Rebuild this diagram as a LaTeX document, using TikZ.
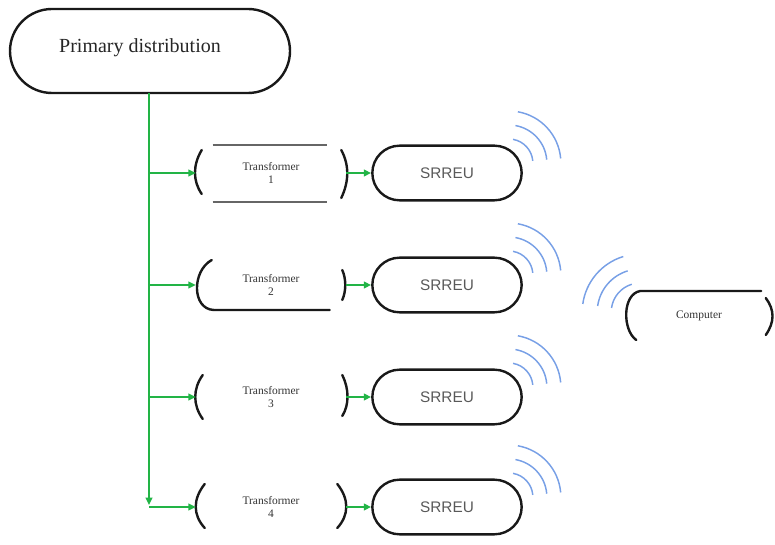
\documentclass[tikz,border=0pt]{standalone}
\usepackage{fontspec}
\setmainfont{Liberation Serif}
\newfontfamily\srfont{Liberation Sans}
\usetikzlibrary{arrows.meta,shapes.misc,calc}
\definecolor{wire}{RGB}{34,180,70}
\definecolor{wave}{RGB}{120,160,230}
\definecolor{ink}{RGB}{25,25,25}
\begin{document}
\begin{tikzpicture}[x=0.75pt,y=-0.75pt,
  pill/.style={draw=ink, line width=1.8pt, rounded rectangle, inner sep=0pt},
  primbox/.style={pill, minimum width=210pt, minimum height=63pt},
  srbox/.style={pill, minimum width=112pt, minimum height=41pt, font=\srfont\fontsize{11.5}{13}\selectfont, text=black!65},
  tbox/.style={minimum width=112.5pt, minimum height=37pt, inner sep=0pt, align=center, font=\fontsize{8.6}{9.5}\selectfont, text=black!80},
  bracket/.style={draw=ink, line width=1.8pt, line cap=round},
  rim/.style={draw=black!60, line width=1pt},
  feed/.style={draw=wire, line width=2pt, -{Triangle[length=5.5pt,width=5pt]}},
  wifi/.style={draw=wave, line width=1.1pt}
]
\useasboundingbox (0,0) rectangle (775,545);

% primary distribution
\node[primbox] (prim) at (150,51) {};
\node[font=\fontsize{15}{18}\selectfont, text=black!85] (primtxt) at (140,48) {Primary distribution};

% transformers
\node[tbox] (t1) at (271,173) {Transformer\\1};
\node[tbox] (t2) at (271,285) {Transformer\\2};
\node[tbox] (t3) at (271,397) {Transformer\\3};
\node[tbox] (t4) at (271,507) {Transformer\\4};

% SRREU units
\node[srbox] (s1) at (447,173) {SRREU};
\node[srbox] (s2) at (447,285) {SRREU};
\node[srbox] (s3) at (447,397) {SRREU};
\node[srbox] (s4) at (447,507) {SRREU};

% computer
\node[tbox, minimum width=108.75pt] (comp) at (699,316) {Computer};

% brackets of transformer 1
\draw[bracket] ([shift={(6,-23)}]t1.west) .. controls ([shift={(-3,-8)}]t1.west) and ([shift={(-3,8)}]t1.west) .. ([shift={(6,21)}]t1.west);
\draw[bracket] ([shift={(-5,-23)}]t1.east) .. controls ([shift={(3,-8)}]t1.east) and ([shift={(3,8)}]t1.east) .. ([shift={(-5,25)}]t1.east);
\draw[rim] ([shift={(17,-28)}]t1.west) -- ([shift={(131,-28)}]t1.west);
\draw[rim] ([shift={(17,29)}]t1.west) -- ([shift={(131,29)}]t1.west);

% brackets of transformer 2
\draw[bracket] ([shift={(16,-25)}]t2.west) .. controls ([shift={(-4,-14)}]t2.west) and ([shift={(-4,24)}]t2.west) .. ([shift={(18,25)}]t2.west) -- ([shift={(134,25)}]t2.west);
\draw[bracket] ([shift={(-4,-15)}]t2.east) .. controls ([shift={(0,-6)}]t2.east) and ([shift={(0,6)}]t2.east) .. ([shift={(-4,15)}]t2.east);

% brackets of transformer 3
\draw[bracket] ([shift={(7,-22)}]t3.west) .. controls ([shift={(-3,-8)}]t3.west) and ([shift={(-3,8)}]t3.west) .. ([shift={(7,22)}]t3.west);
\draw[bracket] ([shift={(-4,-22)}]t3.east) .. controls ([shift={(3,-8)}]t3.east) and ([shift={(3,8)}]t3.east) .. ([shift={(-4,19)}]t3.east);

% brackets of transformer 4
\draw[bracket] ([shift={(9,-23)}]t4.west) .. controls ([shift={(-3,-8)}]t4.west) and ([shift={(-3,8)}]t4.west) .. ([shift={(9,21)}]t4.west);
\draw[bracket] ([shift={(-9,-23)}]t4.east) .. controls ([shift={(3,-8)}]t4.east) and ([shift={(3,8)}]t4.east) .. ([shift={(-9,21)}]t4.east);

% brackets of computer
\draw[bracket] ([shift={(135,-25)}]comp.west) -- ([shift={(14,-25)}]comp.west) .. controls ([shift={(-4,-22)}]comp.west) and ([shift={(-4,14)}]comp.west) .. ([shift={(10,24)}]comp.west);
\draw[bracket] ([shift={(-6,-18)}]comp.east) .. controls ([shift={(3,-6)}]comp.east) and ([shift={(3,6)}]comp.east) .. ([shift={(-6,19)}]comp.east);

% trunk and feeders
\coordinate (top) at (149,93);
\draw[feed] (top) -- ($(top |- t4.west)+(0,-2)$);
\draw[feed] (top |- t1.west) -- (t1.west);
\draw[feed] (top |- t2.west) -- (t2.west);
\draw[feed] (top |- t3.west) -- (t3.west);
\draw[feed] (top |- t4.west) -- (t4.west);

\draw[feed] (t1.east) -- (s1.west);
\draw[feed] (t2.east) -- (s2.west);
\draw[feed] (t3.east) -- (s3.west);
\draw[feed] (t4.east) -- (s4.west);

% wireless waves
\foreach \s in {s1,s2,s3,s4}{
  \coordinate (wc) at ([shift={(-14,-10)}]\s.east);
  \foreach \r in {24,38,52}
    \draw[wifi] ([shift={(-5:\r)}]wc) arc[start angle=-5, end angle=-80, radius=\r];
}
\coordinate (cc) at ([shift={(14,-4)}]comp.west);
\foreach \r in {29,43,58}
  \draw[wifi] ([shift={(-107:\r)}]cc) arc[start angle=-107, end angle=-172, radius=\r];
\end{tikzpicture}
\end{document}
